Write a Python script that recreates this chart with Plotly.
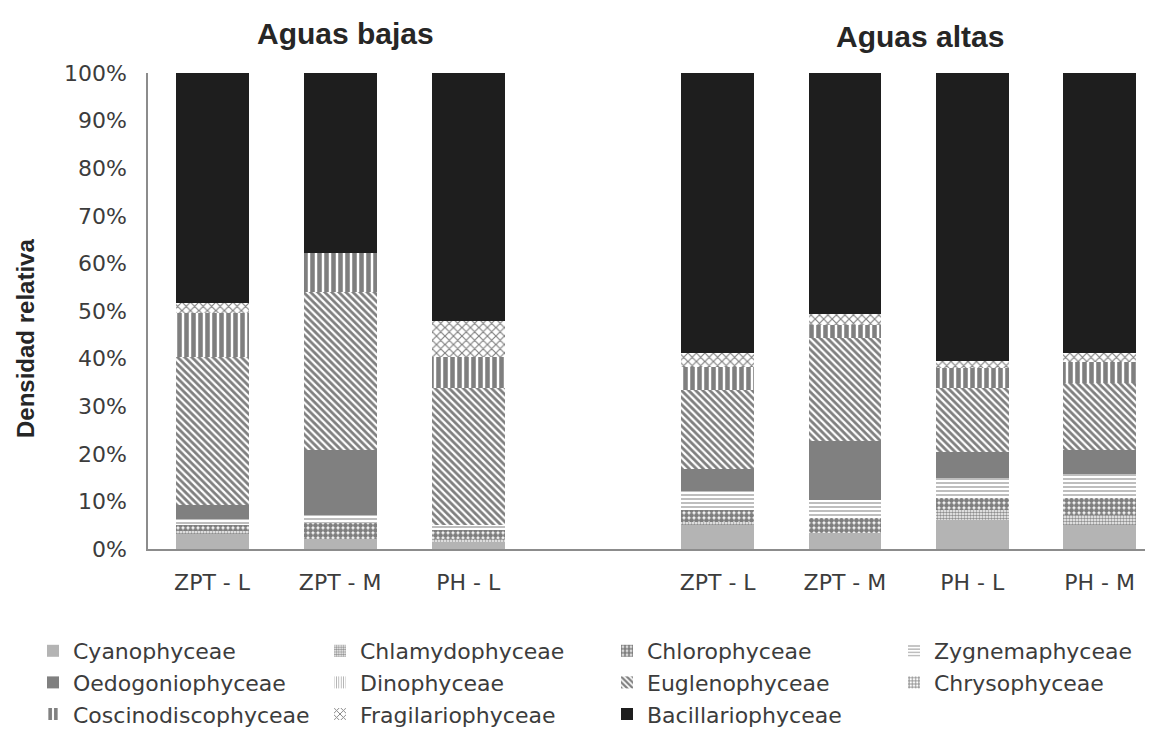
import plotly.graph_objects as go

# categorías
sitios_bajas = ["ZPT - L", "ZPT - M", "PH - L"]
sitios_altas = ["ZPT - L", "ZPT - M", "PH - L", "PH - M"]

clases = [
    "Cyanophyceae", "Chlamydophyceae", "Chlorophyceae", "Zygnemaphyceae",
    "Oedogoniophyceae", "Dinophyceae", "Euglenophyceae", "Chrysophyceae",
    "Coscinodiscophyceae", "Fragilariophyceae", "Bacillariophyceae",
]

# densidad relativa (%) por clase, aguas bajas
bajas_cyano = [3.3, 2.1, 1.5]
bajas_chlamy = [0.4, 0.0, 0.5]
bajas_chloro = [1.3, 3.4, 2.0]
bajas_zygne = [1.3, 1.6, 1.0]
bajas_oedog = [2.9, 13.7, 0.0]
bajas_dino = [0.0, 0.0, 0.0]
bajas_eugle = [31.1, 33.2, 28.8]
bajas_chryso = [0.0, 0.0, 0.0]
bajas_cosci = [9.3, 8.2, 6.5]
bajas_fragi = [2.1, 0.0, 7.6]
bajas_bacil = [48.3, 37.8, 52.1]

# aguas altas
altas_cyano = [5.0, 3.4, 6.1, 5.0]
altas_chlamy = [0.7, 0.0, 2.1, 2.1]
altas_chloro = [2.5, 3.1, 2.5, 3.6]
altas_zygne = [4.0, 3.8, 4.2, 5.1]
altas_oedog = [4.6, 12.4, 5.5, 5.0]
altas_dino = [0.0, 0.0, 0.0, 0.0]
altas_eugle = [16.6, 21.6, 13.4, 14.1]
altas_chryso = [0.0, 0.0, 0.0, 0.0]
altas_cosci = [4.8, 2.8, 4.2, 4.4]
altas_fragi = [3.0, 2.3, 1.5, 1.9]
altas_bacil = [58.8, 50.6, 60.5, 58.8]

bajas = [bajas_cyano, bajas_chlamy, bajas_chloro, bajas_zygne, bajas_oedog, bajas_dino,
         bajas_eugle, bajas_chryso, bajas_cosci, bajas_fragi, bajas_bacil]
altas = [altas_cyano, altas_chlamy, altas_chloro, altas_zygne, altas_oedog, altas_dino,
         altas_eugle, altas_chryso, altas_cosci, altas_fragi, altas_bacil]

# relleno de cada clase (color, patrón)
estilos = [
    dict(color="#b4b4b4"),
    dict(color="white", pattern=dict(shape=".", fgcolor="#222222", size=3, solidity=0.6)),
    dict(color="white", pattern=dict(shape=".", fgcolor="#000000", size=5, solidity=0.75)),
    dict(color="white", pattern=dict(shape="-", fgcolor="#444444", size=4, solidity=0.35)),
    dict(color="#808080"),
    dict(color="white", pattern=dict(shape="|", fgcolor="#555555", size=3, solidity=0.35)),
    dict(color="white", pattern=dict(shape="\\", fgcolor="#000000", size=5, solidity=0.55)),
    dict(color="white", pattern=dict(shape="+", fgcolor="#111111", size=4, solidity=0.5)),
    dict(color="white", pattern=dict(shape="|", fgcolor="#000000", size=7, solidity=0.65)),
    dict(color="white", pattern=dict(shape="x", fgcolor="#000000", size=6, solidity=0.35)),
    dict(color="#1e1e1e"),
]

FONT = "DejaVu Sans"
FONT_TIT = "Liberation Sans, Arial, sans-serif"
GRIS = "#3c3c3c"

fig = go.Figure()
for i, nombre in enumerate(clases):
    m = dict(estilos[i], line=dict(width=0))
    fig.add_trace(go.Bar(x=sitios_bajas, y=bajas[i], name=nombre, marker=m,
                         legendgroup=nombre, xaxis="x", yaxis="y"))
    fig.add_trace(go.Bar(x=sitios_altas, y=altas[i], name=nombre, marker=m,
                         legendgroup=nombre, showlegend=False, xaxis="x2", yaxis="y"))

split = 506 / 1005
eje_x = dict(type="category", showline=True, linecolor="#8c8c8c", linewidth=1.5,
             ticks="", showgrid=False, zeroline=False, ticklabelstandoff=13,
             tickfont=dict(family=FONT, size=22, color=GRIS), fixedrange=True)


# posiciones de la página -> fracción del área del gráfico
def px_x(p):
    return (p - 148) / 1005


def px_y(p):
    return (549 - p) / 476


# la página deja 8 px de margen en el body
fig.update_layout(
    width=1145, height=729,
    margin=dict(l=140, r=0, t=65, b=188, autoexpand=False),
    barmode="stack", bargap=0.43,
    plot_bgcolor="white", paper_bgcolor="white",
    font=dict(family=FONT, color=GRIS),
    xaxis=dict(eje_x, domain=[0, split], range=[-0.5, 3.45], anchor="y"),
    xaxis2=dict(eje_x, domain=[split, 1], range=[-0.5, 3.42], anchor="y"),
    yaxis=dict(range=[0, 100], dtick=10, ticksuffix="%", showgrid=False,
               showline=True, linecolor="#8c8c8c", linewidth=1.5, zeroline=False,
               ticks="", ticklabelstandoff=15, anchor="x",
               tickfont=dict(family=FONT, size=22, color=GRIS)),
    legend=dict(orientation="h", x=px_x(33), y=px_y(630), xanchor="left", yanchor="top",
                entrywidth=242, entrywidthmode="pixels", tracegroupgap=17,
                font=dict(family=FONT, size=22, color=GRIS), traceorder="normal"),
    annotations=[
        dict(text="<b>Aguas bajas</b>", x=px_x(345), y=px_y(33),
             xanchor="center", yanchor="middle", xref="paper", yref="paper", showarrow=False,
             font=dict(family=FONT_TIT, size=30, color="#262626")),
        dict(text="<b>Aguas altas</b>", x=px_x(920), y=px_y(36),
             xanchor="center", yanchor="middle", xref="paper", yref="paper", showarrow=False,
             font=dict(family=FONT_TIT, size=30, color="#262626")),
        dict(text="<b>Densidad relativa</b>", x=px_x(25), y=px_y(339),
             xanchor="center", yanchor="middle", xref="paper", yref="paper",
             showarrow=False, textangle=-90,
             font=dict(family=FONT_TIT, size=24, color="#262626")),
    ],
)

fig.write_html("out.html")
